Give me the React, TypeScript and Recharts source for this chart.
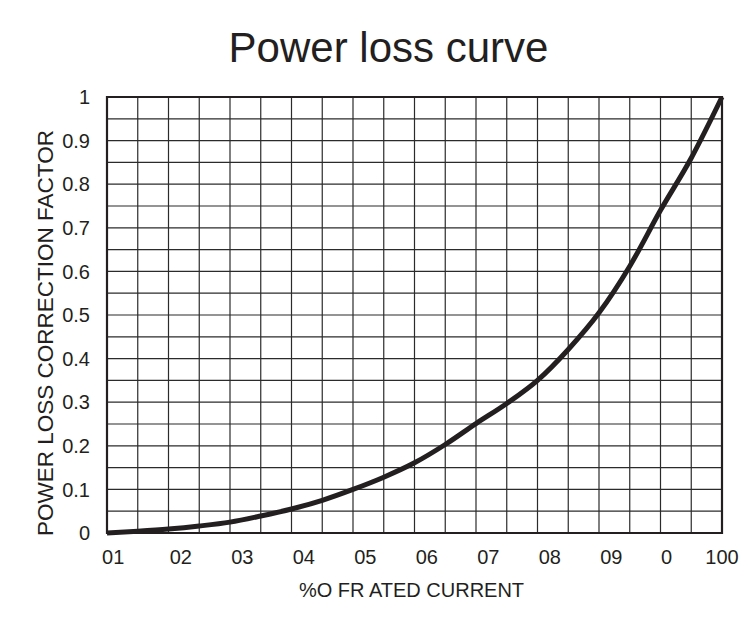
import {
  LineChart,
  Line,
  XAxis,
  YAxis,
  CartesianGrid,
  ReferenceArea,
} from 'recharts'

// % of rated current (grid columns every 5%)
const currentPct = [0, 5, 10, 15, 20, 25, 30, 35, 40, 45, 50, 55, 60, 65, 70, 75, 80, 85, 90, 95, 100]
const lossFactor = [
  0, 0.004, 0.009, 0.016, 0.025, 0.039, 0.055, 0.075, 0.1, 0.128, 0.161,
  0.203, 0.251, 0.297, 0.35, 0.421, 0.505, 0.612, 0.74, 0.86, 1.0,
]

// x tick labels as printed, and where they sit on the axis
const xTickLabels = ['01', '02', '03', '04', '05', '06', '07', '08', '09', '0', '100']
const xTickPos = [1, 12, 22, 32, 42, 52, 62, 72, 82, 91, 100]
const yTicks = [0, 0.1, 0.2, 0.3, 0.4, 0.5, 0.6, 0.7, 0.8, 0.9, 1]

// grid lines
const gridX = [0, 5, 10, 15, 20, 25, 30, 35, 40, 45, 50, 55, 60, 65, 70, 75, 80, 85, 90, 95, 100]
const gridY = [
  0, 0.05, 0.1, 0.15, 0.2, 0.25, 0.3, 0.35, 0.4, 0.45, 0.5,
  0.55, 0.6, 0.65, 0.7, 0.75, 0.8, 0.85, 0.9, 0.95, 1,
]

const data = currentPct.map((x, i) => ({ x, y: lossFactor[i] }))

const FONT = "'Liberation Sans', Arial, sans-serif"
const INK = '#231f20'

export default function App() {
  return (
    <div style={{ position: 'relative', width: 740, height: 614, fontFamily: FONT }}>
      <div style={{
        position: 'absolute',
        left: 0,
        top: 19,
        width: 761,
        textAlign: 'center',
        fontSize: 42,
        lineHeight: '42px',
        color: INK,
      }}>
        Power loss curve
      </div>
      <LineChart
        width={740}
        height={614}
        data={data}
        margin={{ top: 89, right: 26, bottom: 49, left: 29 }}
      >
        <CartesianGrid
          stroke="#2b2b2b"
          strokeWidth={1.2}
          verticalValues={gridX}
          horizontalValues={gridY}
        />
        <XAxis
          dataKey="x"
          type="number"
          domain={[0, 100]}
          ticks={xTickPos}
          interval={0}
          tickFormatter={(_v, i) => xTickLabels[i]}
          tick={{ fill: INK, fontSize: 20, fontFamily: FONT }}
          tickLine={false}
          axisLine={false}
          tickMargin={11}
          height={40}
          label={{
            content: ({ viewBox }: any) => (
              <text
                x={viewBox.x + viewBox.width / 2 - 3}
                y={viewBox.y + 64}
                textAnchor="middle"
                fill={INK}
                fontSize={20}
                fontFamily={FONT}
              >
                %O FR ATED CURRENT
              </text>
            ),
          }}
        />
        <YAxis
          type="number"
          domain={[0, 1]}
          ticks={yTicks}
          interval={0}
          tickFormatter={(v) => `${v}`}
          tick={{ fill: INK, fontSize: 20, fontFamily: FONT }}
          tickLine={false}
          axisLine={false}
          tickMargin={11}
          width={70}
          label={{
            content: ({ viewBox }: any) => {
              const cx = viewBox.x + 8
              const cy = viewBox.y + viewBox.height / 2 + 18
              return (
                <text
                  x={cx}
                  y={cy}
                  transform={`rotate(-90 ${cx} ${cy})`}
                  textAnchor="middle"
                  dominantBaseline="central"
                  fill={INK}
                  fontSize={22.5}
                  fontFamily={FONT}
                >
                  POWER LOSS CORRECTION FACTOR
                </text>
              )
            },
          }}
        />
        <ReferenceArea
          x1={0}
          x2={100}
          y1={0}
          y2={1}
          fill="none"
          stroke={INK}
          strokeWidth={2.2}
        />
        <Line
          type="monotone"
          dataKey="y"
          stroke={INK}
          strokeWidth={5}
          dot={false}
          isAnimationActive={false}
        />
      </LineChart>
    </div>
  )
}
